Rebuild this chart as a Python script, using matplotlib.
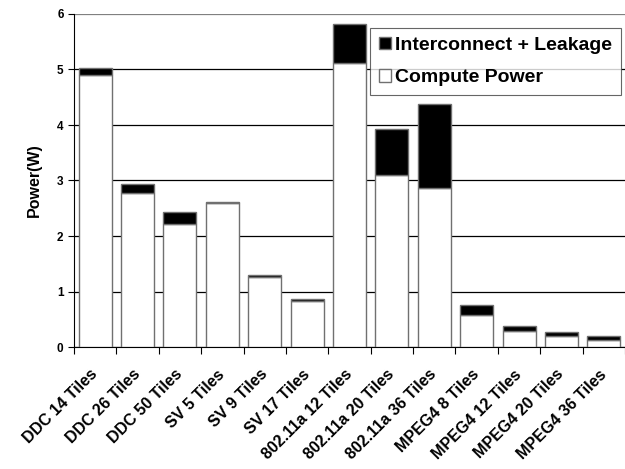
import matplotlib.pyplot as plt
import numpy as np

plt.rcParams['font.family'] = ['Liberation Sans', 'DejaVu Sans']
plt.rcParams['font.weight'] = 'bold'

categories = ["DDC 14 Tiles", "DDC 26 Tiles", "DDC 50 Tiles", "SV 5 Tiles", "SV 9 Tiles",
              "SV 17 Tiles", "802.11a 12 Tiles", "802.11a 20 Tiles", "802.11a 36 Tiles",
              "MPEG4 8 Tiles", "MPEG4 12 Tiles", "MPEG4 20 Tiles", "MPEG4 36 Tiles"]
compute = [4.90, 2.78, 2.22, 2.59, 1.26, 0.82, 5.12, 3.10, 2.87, 0.57, 0.28, 0.19, 0.12]
total = [5.02, 2.93, 2.43, 2.62, 1.30, 0.86, 5.82, 3.93, 4.37, 0.75, 0.38, 0.27, 0.20]
interconnect = [t - c for t, c in zip(total, compute)]

fig = plt.figure(figsize=(6.25, 4.69), dpi=100)
ax = fig.add_axes([74 / 625, 1 - 347 / 469, 551 / 625, 333 / 469])

x = np.arange(len(categories))
w = 0.78
ax.bar(x, compute, w, color='white', edgecolor='#707070', linewidth=1.0,
       label='Compute Power', zorder=3)
ax.bar(x, interconnect, w, bottom=compute, color='black', edgecolor='#707070',
       linewidth=1.0, label='Interconnect + Leakage', zorder=3)

ax.set_xlim(-0.5, len(categories) - 0.5)
ax.set_ylim(0, 6)
ax.set_yticks(range(7))
ax.yaxis.grid(True, color='black', linewidth=0.9)
ax.yaxis.get_gridlines()[-1].set_color('#808080')
ax.set_axisbelow(True)
ax.set_xticks(np.arange(len(categories) + 1) - 0.5)
ax.set_xticklabels([])
ax.set_xticks(x, minor=True)
ax.set_xticklabels(categories, minor=True, rotation=45, ha='right', va='center',
                   rotation_mode='anchor', fontsize=11.5, fontweight='bold')
ax.tick_params(axis='x', which='minor', length=0, pad=18)
ax.tick_params(axis='x', which='major', length=5, direction='out')
ax.tick_params(axis='y', length=4, labelsize=8.5)
for s in ['top', 'right']:
    ax.spines[s].set_visible(False)
ax.set_ylabel('Power(W)', fontsize=11.5, fontweight='bold', labelpad=11)

h, l = ax.get_legend_handles_labels()
leg = ax.legend(h[::-1], l[::-1], loc='upper right', bbox_to_anchor=(0.993, 0.958),
                fontsize=14, frameon=True, fancybox=False, edgecolor='#404040',
                handlelength=0.6, handleheight=0.6, handletextpad=0.25,
                borderpad=0.45, labelspacing=0.8, borderaxespad=0)
leg.get_frame().set_linewidth(0.8)

fig.savefig('out.png', dpi=100)
